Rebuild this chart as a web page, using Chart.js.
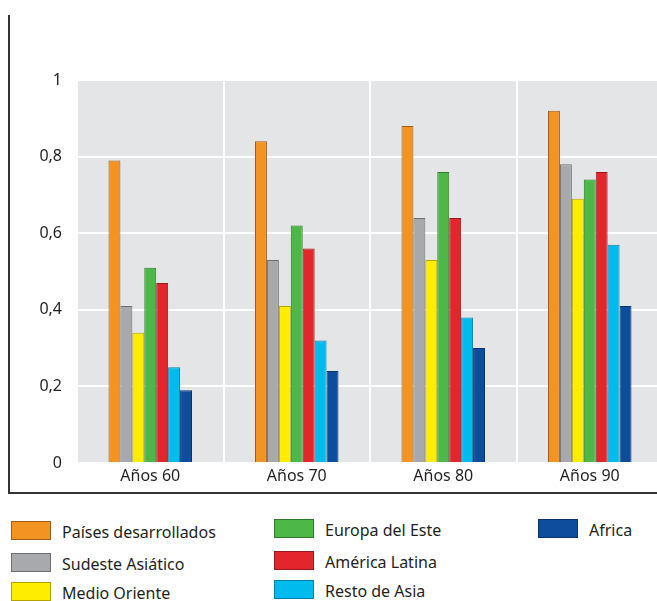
<!DOCTYPE html>
<html>
<head>
<meta charset="utf-8">
<script src="https://cdn.jsdelivr.net/npm/chart.js@4"></script>
<style>
  html, body { margin: 0; padding: 0; background: #fff; overflow: hidden; }
  #wrap { position: relative; width: 657px; height: 601px; overflow: hidden; }
  #chart { position: absolute; left: 0; top: 0; }
  .leg { position: absolute; font-family: "Noto Sans", sans-serif; font-size: 16px; color: #231f20; white-space: nowrap; }
  .sw { position: absolute; width: 40px; height: 19px; box-sizing: border-box; border: 1px solid; }
</style>
</head>
<body>
<div id="wrap">
  <canvas id="chart" width="665" height="500"></canvas>
  <div id="legend"></div>
</div>
<script>
const categories = ['Años 60', 'Años 70', 'Años 80', 'Años 90'];
const seriesNames = ['Países desarrollados', 'Sudeste Asiático', 'Medio Oriente', 'Europa del Este', 'América Latina', 'Resto de Asia', 'Africa'];
const paisesDesarrollados = [0.79, 0.84, 0.88, 0.92];
const sudesteAsiatico = [0.41, 0.53, 0.64, 0.78];
const medioOriente = [0.34, 0.41, 0.53, 0.69];
const europaEste = [0.51, 0.62, 0.76, 0.74];
const americaLatina = [0.47, 0.56, 0.64, 0.76];
const restoAsia = [0.25, 0.32, 0.38, 0.57];
const africa = [0.19, 0.24, 0.30, 0.41];
const yTicks = [0, 0.2, 0.4, 0.6, 0.8, 1];

const fills = ['#f39322', '#a7a9ac', '#ffed00', '#4db748', '#e3262b', '#00bcee', '#0e4c9c'];
const borders = ['#9c5d17', '#6d6e71', '#b3a200', '#2f7a2c', '#981a1d', '#0a7fa6', '#0a3470'];
const values = [paisesDesarrollados, sudesteAsiatico, medioOriente, europaEste, americaLatina, restoAsia, africa];

const datasets = seriesNames.map((name, i) => ({
    label: name,
    data: values[i],
    backgroundColor: fills[i],
    borderColor: borders[i],
    borderWidth: 1,
    barPercentage: 1,
    categoryPercentage: 0.57
}));

// frame lines and plot background
const framePlugin = {
    id: 'frame',
    beforeDraw(chart) {
        const ctx = chart.ctx, a = chart.chartArea;
        ctx.save();
        ctx.fillStyle = '#e4e5e7';
        ctx.fillRect(a.left, a.top, a.right - a.left, a.bottom - a.top);
        ctx.strokeStyle = '#333';
        ctx.lineWidth = 2;
        ctx.beginPath();
        ctx.moveTo(9, 15);
        ctx.lineTo(9, 493);
        ctx.lineTo(665, 493);
        ctx.stroke();
        ctx.restore();
    }
};

const font = { family: 'Noto Sans', size: 16 };

new Chart(document.getElementById('chart'), {
    type: 'bar',
    data: { labels: categories, datasets: datasets },
    options: {
        responsive: false,
        animation: false,
        layout: { padding: { top: 80, right: 2, left: 0, bottom: 0 } },
        plugins: { legend: { display: false }, tooltip: { enabled: false } },
        scales: {
            x: {
                grid: { color: '#ffffff', lineWidth: 2, drawTicks: false, offset: true },
                border: { display: false },
                ticks: { color: '#231f20', font: font, padding: 4 },
                afterFit(scale) { scale.height = 37; }
            },
            y: {
                min: 0,
                max: 1,
                afterBuildTicks(scale) { scale.ticks = yTicks.map(v => ({ value: v })); },
                grid: { color: '#ffffff', lineWidth: 2, drawTicks: false },
                border: { display: false },
                ticks: {
                    color: '#231f20',
                    font: font,
                    padding: 15,
                    callback: v => String(v).replace('.', ',')
                },
                afterFit(scale) { scale.width = 77; }
            }
        }
    },
    plugins: [framePlugin]
});

// legend in three columns
const legendPos = [
    [11, 521], [11, 553], [11, 582],
    [274, 519], [274, 551], [274, 580],
    [538, 519]
];
const legend = document.getElementById('legend');
seriesNames.forEach((name, i) => {
    const [x, y] = legendPos[i];
    const sw = document.createElement('div');
    sw.className = 'sw';
    sw.style.left = x + 'px';
    sw.style.top = y + 'px';
    sw.style.background = fills[i];
    sw.style.borderColor = borders[i];
    legend.appendChild(sw);
    const t = document.createElement('div');
    t.className = 'leg';
    t.style.left = (x + 51) + 'px';
    t.style.top = y + 'px';
    t.textContent = name;
    legend.appendChild(t);
});
</script>
</body>
</html>
